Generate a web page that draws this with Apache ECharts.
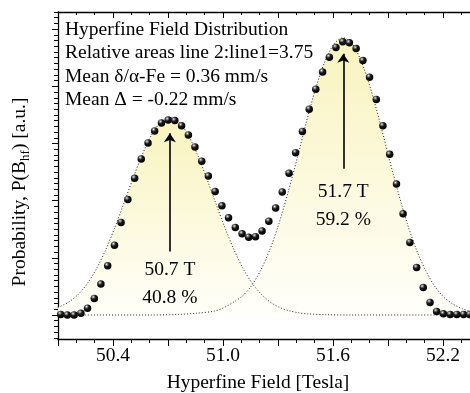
<!DOCTYPE html>
<html>
<head>
<meta charset="utf-8">
<script src="https://cdn.jsdelivr.net/npm/echarts@6/dist/echarts.min.js"></script>
<style>html,body{margin:0;padding:0;background:#fff}#c{width:470px;height:393px}</style>
</head>
<body>
<div id="c"></div>
<script>
// ---- data ----
var fieldT = [50.115,50.151,50.188,50.225,50.261,50.298,50.334,50.371,50.408,50.444,50.481,50.518,50.554,50.591,50.627,50.664,50.701,50.737,50.774,50.811,50.847,50.884,50.920,50.957,50.994,51.030,51.067,51.104,51.140,51.177,51.213,51.250,51.287,51.323,51.360,51.396,51.433,51.470,51.506,51.543,51.580,51.616,51.653,51.689,51.726,51.763,51.799,51.836,51.872,51.909,51.946,51.982,52.019,52.056,52.092,52.129,52.165,52.202,52.239,52.275,52.312,52.345];
var probability = [0.01,0,0,0.03,0.12,0.29,0.54,0.86,1.22,1.62,2.02,2.39,2.73,3.01,3.22,3.36,3.41,3.40,3.31,3.15,2.94,2.69,2.43,2.16,1.91,1.70,1.53,1.42,1.36,1.37,1.47,1.64,1.87,2.15,2.48,2.84,3.21,3.60,3.95,4.25,4.51,4.68,4.78,4.76,4.66,4.45,4.16,3.77,3.31,2.81,2.29,1.77,1.27,0.83,0.48,0.22,0.06,0.02,0.01,0.01,0.01,0.01];

var fit1X = [50.10,50.16,50.21,50.26,50.31,50.36,50.41,50.46,50.51,50.56,50.61,50.66,50.71,50.76,50.81,50.86,50.91,50.96,51.01,51.06,51.11,51.16,51.21,51.26,51.31,51.36,51.41,51.46,51.56,51.70,52.35];
var fit1Y = [0.13,0.23,0.36,0.55,0.81,1.14,1.53,1.96,2.40,2.81,3.15,3.37,3.45,3.37,3.15,2.81,2.40,1.96,1.53,1.14,0.81,0.55,0.36,0.22,0.13,0.075,0.04,0.02,0.005,0,0];

var fit2X = [50.10,50.60,50.755,50.855,50.955,51.005,51.055,51.105,51.155,51.205,51.255,51.305,51.355,51.405,51.455,51.505,51.555,51.605,51.655,51.705,51.755,51.805,51.855,51.905,51.955,52.005,52.055,52.105,52.155,52.205,52.255,52.305,52.35];
var fit2Y = [0,0,0.01,0.03,0.07,0.13,0.22,0.33,0.51,0.78,1.14,1.60,2.15,2.75,3.38,3.96,4.43,4.74,4.85,4.74,4.43,3.96,3.38,2.75,2.15,1.60,1.14,0.78,0.50,0.31,0.19,0.11,0.06];

var peakField = [50.71, 51.656];
var arrowFrom = [1.11, 2.56];
var arrowTo = [3.18, 4.57];
var peakLabelY = [0.54, 1.91];
var peakLabels = ['50.7 T\n40.8 %', '51.7 T\n59.2 %'];

var xMajorTicks = [50.1,50.4,50.7,51.0,51.3,51.6,51.9,52.2];
var xTickLabels = [50.4,51.0,51.6,52.2];
var yMajorTicks = [0,1,2,3,4,5];

var infoLines = ['Hyperfine Field Distribution','Relative areas line 2:line1=3.75','Mean \u03B4/\u03B1-Fe = 0.36 mm/s','Mean \u0394 = -0.22 mm/s'];
var xTitle = 'Hyperfine Field [Tesla]';

// ---- build ----
var xMin = 50.1, xMax = 52.347, yMin = -0.42, yMax = 5.30;
var xMinor = [];
for (var k = 1; k <= 22; k++) xMinor.push(Math.round((50.1 + 0.1 * k) * 10) / 10);
var yMinor = [];
for (var j = -4; j <= 53; j++) yMinor.push(Math.round(j) / 10);

function pairs(a, b) { return a.map(function (v, i) { return [v, b[i]]; }); }

var FONT = 'Liberation Serif';
var ink = '#000';
var fill = {
  type: 'linear', x: 0, y: 0, x2: 0, y2: 1,
  colorStops: [{offset: 0, color: 'rgb(249,243,190)'}, {offset: 1, color: 'rgb(255,255,250)'}]
};

function xAx(pos, ticks, len, inside, showLine, labels) {
  return {
    type: 'value', position: pos, min: xMin, max: xMax, gridIndex: 0,
    axisLine: {show: showLine, onZero: false, lineStyle: {color: ink, width: 1.3}},
    axisTick: {show: true, inside: inside, length: len, customValues: ticks, lineStyle: {color: ink, width: 1}},
    axisLabel: labels ? {show: true, customValues: labels, margin: 7, color: ink, fontFamily: FONT, fontSize: 19.5,
      formatter: function (v) { return v.toFixed(1); }} : {show: false},
    splitLine: {show: false}
  };
}
function yAx(ticks, len, showLine) {
  return {
    type: 'value', position: 'left', min: yMin, max: yMax,
    axisLine: {show: showLine, onZero: false, lineStyle: {color: ink, width: 1.3}},
    axisTick: {show: true, inside: false, length: len, customValues: ticks, lineStyle: {color: ink, width: 1}},
    axisLabel: {show: false}, splitLine: {show: false}
  };
}

var dotColor = {
  type: 'radial', x: 0.36, y: 0.3, r: 0.7,
  colorStops: [{offset: 0, color: '#f4f4f4'}, {offset: 0.15, color: '#9a9a9a'}, {offset: 0.45, color: '#1a1a1a'}, {offset: 1, color: '#000'}]
};

var chart = echarts.init(document.getElementById('c'), null, {renderer: 'canvas'});
chart.setOption({
  animation: false,
  backgroundColor: '#fff',
  grid: {left: 58, right: 0, top: 12, bottom: 54, containLabel: false},
  xAxis: [
    xAx('bottom', xMajorTicks, 7, false, true, xTickLabels),
    xAx('bottom', xMinor, 4, false, false, null),
    xAx('top', xMajorTicks, 6, true, true, null),
    xAx('top', xMinor, 3, true, false, null)
  ],
  yAxis: [yAx(yMajorTicks, 6, true), yAx(yMinor, 4, false)],
  graphic: [
    {type: 'text', x: 65, y: 18, z: 100, style: {text: infoLines.join('\n'), font: '19.5px "' + FONT + '"', lineHeight: 23.5, fill: ink, verticalAlign: 'top', textVerticalAlign: 'top'}},
    {type: 'text', x: 258, y: 383, z: 100, style: {text: xTitle, font: '19.5px "' + FONT + '"', fill: ink, align: 'center', textAlign: 'center', verticalAlign: 'middle', textVerticalAlign: 'middle'}},
    {type: 'text', x: 20, y: 192, rotation: Math.PI / 2, z: 100, style: {
      text: 'Probability, P(B{s|hf}) [a.u.]', font: '19.5px "' + FONT + '"', fill: ink,
      align: 'center', textAlign: 'center', verticalAlign: 'middle', textVerticalAlign: 'middle',
      rich: {s: {fontFamily: FONT, fontSize: 13, padding: [12, 0, 0, 0], verticalAlign: 'middle', fill: ink}}
    }}
  ],
  series: [
    {type: 'line', name: 'area1', data: pairs(fit1X, fit1Y), smooth: 0.3, showSymbol: false, lineStyle: {width: 0, opacity: 0}, areaStyle: {color: fill, opacity: 1}, z: 1, silent: true},
    {type: 'line', name: 'area2', data: pairs(fit2X, fit2Y), smooth: 0.3, showSymbol: false, lineStyle: {width: 0, opacity: 0}, areaStyle: {color: fill, opacity: 1}, z: 1, silent: true},
    {type: 'line', name: 'fit1', data: pairs(fit1X, fit1Y), smooth: 0.3, showSymbol: false, lineStyle: {width: 1, color: '#222', type: [1, 2]}, z: 2},
    {type: 'line', name: 'fit2', data: pairs(fit2X, fit2Y), smooth: 0.3, showSymbol: false, lineStyle: {width: 1, color: '#222', type: [1, 2]}, z: 2,
      markLine: {
        silent: true, symbol: ['none', 'arrow'], symbolSize: 9, symbolOffset: 0, animation: false,
        itemStyle: {color: ink}, lineStyle: {color: ink, width: 1.6, type: 'solid', opacity: 1}, label: {show: false},
        data: peakField.map(function (f, i) { return [{coord: [f, arrowFrom[i]]}, {coord: [f, arrowTo[i]]}]; })
      }
    },
    {type: 'scatter', name: 'P(Bhf)', data: pairs(fieldT, probability), symbol: 'circle', symbolSize: 7.5, clip: false,
      itemStyle: {color: dotColor, opacity: 1}, z: 5},
    {type: 'scatter', name: 'labels', data: pairs(peakField, peakLabelY), symbolSize: 1, z: 6, silent: true,
      itemStyle: {color: 'rgba(0,0,0,0)', opacity: 1},
      label: {show: true, position: 'inside', color: '#000', opacity: 1, fontFamily: FONT, fontSize: 19.5, lineHeight: 28,
        formatter: function (p) { return peakLabels[p.dataIndex]; }}}
  ]
});
</script>
</body>
</html>
